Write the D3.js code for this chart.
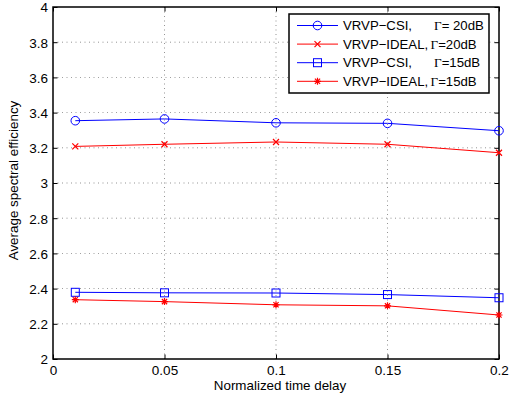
<!DOCTYPE html>
<html lang="en">
<head>
<meta charset="UTF-8">
<title>Average spectral efficiency</title>
<script src="https://d3js.org/d3.v7.min.js"></script>
<style>
  body { margin: 0; background: #fff; }
  svg text { font-family: "Liberation Sans", Arial, sans-serif; fill: #000; }
  .tick-label { font-size: 13.5px; }
  .axis-label { font-size: 13.4px; }
  .legend text { font-size: 13.2px; }
</style>
</head>
<body>
<svg width="509" height="398"></svg>
<script>
// data
var delays = [0.01, 0.05, 0.1, 0.15, 0.2];
var csi20 = [3.354, 3.364, 3.342, 3.339, 3.297];
var ideal20 = [3.208, 3.220, 3.233, 3.220, 3.172];
var csi15 = [2.379, 2.376, 2.375, 2.366, 2.348];
var ideal15 = [2.337, 2.326, 2.308, 2.302, 2.250];

var xTicks = [0, 0.05, 0.1, 0.15, 0.2];
var yTicks = [2, 2.2, 2.4, 2.6, 2.8, 3, 3.2, 3.4, 3.6, 3.8, 4];

var series = [
  {name: "VRVP\u2212CSI,", snr: "= 20dB", values: csi20, color: "#0000ff", marker: "circle"},
  {name: "VRVP\u2212IDEAL,", snr: "=20dB", values: ideal20, color: "#ff0000", marker: "x"},
  {name: "VRVP\u2212CSI,", snr: "=15dB", values: csi15, color: "#0000ff", marker: "square"},
  {name: "VRVP\u2212IDEAL,", snr: "=15dB", values: ideal15, color: "#ff0000", marker: "star"}
];

var margin = {top: 7, right: 10, bottom: 39, left: 53};
var width = 509 - margin.left - margin.right;   // 446
var height = 398 - margin.top - margin.bottom;  // 352

var svg = d3.select("svg")
  .append("g")
  .attr("transform", "translate(" + margin.left + "," + margin.top + ")");

var x = d3.scaleLinear().domain([0, 0.2]).range([0, width]);
var y = d3.scaleLinear().domain([2, 4]).range([height, 0]);

// dotted grid
svg.append("g").selectAll("line")
  .data(xTicks.slice(1, -1))
  .enter().append("line")
  .attr("x1", d => x(d)).attr("x2", d => x(d))
  .attr("y1", 0).attr("y2", height)
  .attr("stroke", "#000").attr("stroke-width", 0.6)
  .attr("stroke-dasharray", "1,3.5").attr("opacity", 0.7);

svg.append("g").selectAll("line")
  .data(yTicks.slice(1, -1))
  .enter().append("line")
  .attr("x1", 0).attr("x2", width)
  .attr("y1", d => y(d)).attr("y2", d => y(d))
  .attr("stroke", "#000").attr("stroke-width", 0.6)
  .attr("stroke-dasharray", "1,3.5").attr("opacity", 0.7);

// axes with inward ticks (MATLAB style)
var tl = 4.5;
svg.append("g")
  .attr("transform", "translate(0," + height + ")")
  .call(d3.axisBottom(x).tickValues(xTicks).tickSize(-tl).tickFormat(d3.format("")))
  .call(g => g.select(".domain").remove())
  .call(g => g.selectAll("text").attr("class", "tick-label").attr("dy", null).attr("y", 15.5));
svg.append("g")
  .call(d3.axisTop(x).tickValues(xTicks).tickSize(-tl).tickFormat(""))
  .call(g => g.select(".domain").remove());
svg.append("g")
  .call(d3.axisLeft(y).tickValues(yTicks).tickSize(-tl).tickFormat(d3.format("")))
  .call(g => g.select(".domain").remove())
  .call(g => g.selectAll("text").attr("class", "tick-label").attr("x", -5).attr("dy", "0.36em"));
svg.append("g")
  .attr("transform", "translate(" + width + ",0)")
  .call(d3.axisRight(y).tickValues(yTicks).tickSize(-tl).tickFormat(""))
  .call(g => g.select(".domain").remove());

svg.selectAll(".tick line").attr("stroke", "#000").attr("stroke-width", 1);

svg.append("rect")
  .attr("width", width).attr("height", height)
  .attr("fill", "none").attr("stroke", "#000").attr("stroke-width", 1.5);

// markers
function drawMarker(g, type, color) {
  if (type === "circle") {
    g.append("circle").attr("r", 4.3).attr("fill", "none").attr("stroke", color).attr("stroke-width", 1);
  } else if (type === "square") {
    g.append("rect").attr("x", -4).attr("y", -4).attr("width", 8).attr("height", 8)
      .attr("fill", "none").attr("stroke", color).attr("stroke-width", 1);
  } else if (type === "x") {
    g.append("path").attr("d", "M-3,-3L3,3M-3,3L3,-3").attr("stroke", color).attr("stroke-width", 1.2);
  } else if (type === "star") {
    g.append("path").attr("d", "M-3.5,0L3.5,0M0,-3.5L0,3.5M-2.6,-2.6L2.6,2.6M-2.6,2.6L2.6,-2.6")
      .attr("stroke", color).attr("stroke-width", 1.2);
  }
}

var line = d3.line().x(d => x(d[0])).y(d => y(d[1]));

series.forEach(function(s) {
  var pts = delays.map((d, i) => [d, s.values[i]]);
  svg.append("path")
    .datum(pts)
    .attr("d", line)
    .attr("fill", "none")
    .attr("stroke", s.color)
    .attr("stroke-width", 1);
  svg.append("g").selectAll("g")
    .data(pts)
    .enter().append("g")
    .attr("transform", d => "translate(" + x(d[0]) + "," + y(d[1]) + ")")
    .each(function() { drawMarker(d3.select(this), s.marker, s.color); });
});

// axis labels
svg.append("text")
  .attr("class", "axis-label")
  .attr("x", width / 2 + 4)
  .attr("y", height + 30.5)
  .attr("text-anchor", "middle")
  .text("Normalized time delay");

svg.append("text")
  .attr("class", "axis-label")
  .attr("transform", "rotate(-90)")
  .attr("x", -(180.5 - margin.top))
  .attr("y", -35)
  .attr("text-anchor", "middle")
  .text("Average spectral efficiency");

// legend
var legend = svg.append("g")
  .attr("class", "legend")
  .attr("transform", "translate(" + (289 - margin.left) + "," + (14 - margin.top) + ")");

legend.append("rect")
  .attr("width", 200).attr("height", 79)
  .attr("fill", "#fff").attr("stroke", "#000").attr("stroke-width", 1.5);

var rows = legend.selectAll(".row")
  .data(series)
  .enter().append("g")
  .attr("class", "row")
  .attr("transform", (d, i) => "translate(0," + (11.5 + i * 18.6) + ")");

rows.append("line")
  .attr("x1", 8).attr("x2", 49)
  .attr("stroke", d => d.color).attr("stroke-width", 1);

rows.append("g")
  .attr("transform", "translate(28.5,0)")
  .each(function(d) { drawMarker(d3.select(this), d.marker, d.color); });

rows.append("text")
  .attr("x", 54)
  .attr("dy", "0.36em")
  .text(d => d.name);

var gamma = rows.append("text")
  .attr("x", d => d.name.indexOf("CSI") >= 0 ? 145 : 141.5)
  .attr("dy", "0.36em");
gamma.append("tspan")
  .style("font-family", "'Liberation Serif', 'Times New Roman', serif")
  .text("\u0393");
gamma.append("tspan")
  .text(d => d.snr);
</script>
</body>
</html>
